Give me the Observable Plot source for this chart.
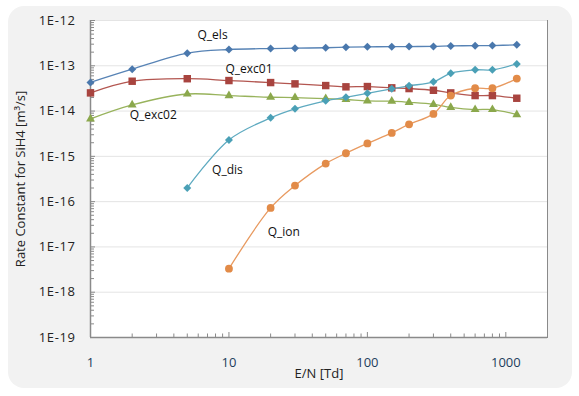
<!DOCTYPE html>
<html><head><meta charset="utf-8">
<script src="https://cdn.jsdelivr.net/npm/d3@7"></script>
<script src="https://cdn.jsdelivr.net/npm/@observablehq/plot@0.6"></script>
<style>
body{margin:0;background:#fff;}
#wrap{position:relative;width:579px;height:396px;overflow:hidden;}
#panel{position:absolute;left:8px;top:6px;width:564px;height:382px;background:#f2f2f2;border-radius:16px;}
#chart{position:absolute;left:0;top:0;}
#chart g[aria-label="y-axis tick label"] text{letter-spacing:0.6px;}
</style></head><body><div id="wrap"><div id="panel"></div><div id="chart"></div></div>
<script>
// ---- data (E/N in Td, rate constants in m^3/s) ----
const E_all = [1,2,5,10,20,30,50,70,100,150,200,300,400,600,800,1200];
const E_dis = [5,10,20,30,50,70,100,150,200,300,400,600,800,1200];
const E_ion = [10,20,30,50,70,100,150,200,300,400,600,800,1200];
const Q_els   = [4.3e-14,8.4e-14,1.9e-13,2.29e-13,2.4e-13,2.45e-13,2.5e-13,2.57e-13,2.62e-13,2.64e-13,2.66e-13,2.68e-13,2.75e-13,2.78e-13,2.8e-13,2.9e-13];
const Q_exc01 = [2.52e-14,4.56e-14,5.18e-14,4.72e-14,4.26e-14,3.99e-14,3.66e-14,3.43e-14,3.48e-14,3.26e-14,3.14e-14,2.88e-14,2.52e-14,2.2e-14,2.2e-14,1.92e-14];
const Q_exc02 = [6.73e-15,1.37e-14,2.38e-14,2.2e-14,2.02e-14,1.99e-14,1.89e-14,1.8e-14,1.68e-14,1.65e-14,1.56e-14,1.41e-14,1.21e-14,1.08e-14,1.08e-14,8.37e-15];
const Q_dis   = [2.01e-16,2.31e-15,7.08e-15,1.12e-14,1.68e-14,2.02e-14,2.47e-14,3.1e-14,3.61e-14,4.42e-14,6.84e-14,8.13e-14,8.13e-14,1.1e-13];
const Q_ion   = [3.31e-18,7.26e-17,2.26e-16,6.92e-16,1.17e-15,1.93e-15,3.3e-15,5.11e-15,8.67e-15,2.2e-14,3.19e-14,3.19e-14,5.22e-14];
const seriesNames = ["Q_els","Q_exc01","Q_exc02","Q_dis","Q_ion"];
const labelE = [5.93, 9.43, 1.92, 7.56, 19.06];
const labelV = [4.66e-13, 8.57e-14, 7.96e-15, 4.84e-16, 2.10e-17];
const xTicks = [1,10,100,1000];
const yTicks = [1e-19,1e-18,1e-17,1e-16,1e-15,1e-14,1e-13,1e-12];
const xTitle = "E/N [Td]";
const yTitle = "Rate Constant for SiH4 [m³/s]";

// ---- styles ----
const markerColors = ["#4a78ad","#a8443f","#8ba84c","#4aa0b6","#e28b48"];
const lineColors   = ["#5783b5","#b35650","#98b35c","#5eaac0","#e89a60"];
const symbols = ["diamond2","square","triangle","diamond2","circle"];
const radii = [3.6,4.2,3.3,3.6,3.9];

const xs = [E_all,E_all,E_all,E_dis,E_ion];
const vs = [Q_els,Q_exc01,Q_exc02,Q_dis,Q_ion];
const series = seriesNames.map((s,i)=>xs[i].map((e,j)=>({s, E:e, v:vs[i][j]})));
const labels = seriesNames.map((s,i)=>({s, E:labelE[i], v:labelV[i]}));

const minorOf = (majors, last) => majors.flatMap(m => d3.range(2,10).map(k=>k*m)).filter(d=>d<=last);
const yMinor = minorOf(yTicks.slice(0,-1), 1e-12);
const xMinor = minorOf(xTicks.slice(0,-1), 1000);

const marks = [
  Plot.frame({fill:"white", stroke:"#8a8a8a"}),
  Plot.gridY(yTicks, {stroke:"#e4e4e4", strokeOpacity:1}),
  Plot.axisY({ticks:yMinor, tickSize:-4, text:null, label:null, stroke:"#8a8a8a"}),
  Plot.axisY({ticks:yTicks, tickSize:-5, text:null, label:null, stroke:"#8a8a8a"}),
  Plot.axisY({ticks:yTicks, tickSize:0, tickPadding:15, fontSize:13, fill:"#222", label:null,
    tickFormat: d => "1E-" + Math.round(-Math.log10(d))}),
  Plot.axisX({ticks:xMinor, tickSize:-3.5, text:null, label:null, stroke:"#8a8a8a"}),
  Plot.axisX({ticks:xTicks, tickSize:-5, text:null, label:null, stroke:"#8a8a8a"}),
  Plot.axisX({ticks:xTicks, tickSize:0, tickPadding:20, fontSize:13, fill:"#1d3d5c", label:null, tickFormat: d=>String(d)}),
  Plot.ruleX([1], {stroke:"#8a8a8a", strokeWidth:1.5}),
  Plot.ruleY([1e-19], {stroke:"#8a8a8a", strokeWidth:1.3}),
  ...series.map((rows,i)=>Plot.line(rows, {x:"E", y:"v", stroke:lineColors[i], strokeWidth:1.3, curve:"catmull-rom"})),
  ...series.map((rows,i)=>Plot.dot(rows, {x:"E", y:"v", fill:markerColors[i], symbol:symbols[i], r:radii[i], stroke:"none"})),
  Plot.text(labels, {x:"E", y:"v", text:"s", textAnchor:"start", fontSize:12, fill:"#111"}),
  Plot.text([xTitle], {frameAnchor:"bottom", textAnchor:"middle", dy:40, fontSize:13, fill:"#222"}),
  Plot.text([yTitle], {frameAnchor:"left", textAnchor:"middle", dx:-70, rotate:-90, fontSize:13, fill:"#222"})
];

const chart = Plot.plot({
  width:579, height:396,
  marginLeft:90, marginRight:32, marginTop:20, marginBottom:59,
  style:{background:"transparent", fontFamily:"'Open Sans', sans-serif", fontSize:"13px"},
  x:{type:"log", domain:[1,2000], label:null},
  y:{type:"log", domain:[1e-19,1e-12], label:null},
  marks
});
document.getElementById("chart").appendChild(chart);
</script></body></html>
